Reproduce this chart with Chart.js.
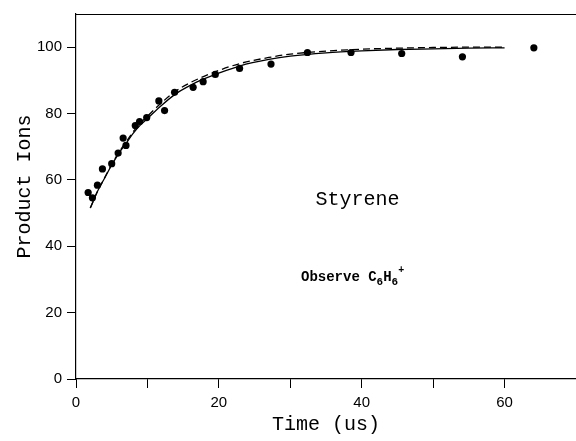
<!DOCTYPE html>
<html>
<head>
<meta charset="utf-8">
<script src="https://cdn.jsdelivr.net/npm/chart.js@4"></script>
<style>
  html, body { margin: 0; padding: 0; background: #fff; overflow: hidden; }
  #wrap { width: 576px; height: 441px; overflow: hidden; }
</style>
</head>
<body>
<div id="wrap"><canvas id="myChart" width="582" height="441"></canvas></div>
<script>
// measured points (time in us, product ions)
let pointTime = [1.7, 2.3, 3.0, 3.7, 5.0, 5.9, 6.6, 7.0, 8.3, 8.9, 9.9, 11.6, 12.4, 13.8, 16.4, 17.8, 19.5, 22.9, 27.3, 32.4, 38.5, 45.6, 54.1, 64.1];
let pointIons = [56.2, 54.6, 58.4, 63.3, 64.9, 68.1, 72.6, 70.4, 76.4, 77.6, 78.8, 83.8, 80.9, 86.4, 87.9, 89.6, 91.8, 93.6, 94.9, 98.4, 98.4, 98.1, 97.1, 99.8];

// fitted curves
let fitTime   = [2, 3, 4, 5, 6, 7, 8, 9, 10, 12, 14, 16, 18, 20, 23, 27, 30, 35, 40, 45, 50, 55, 60];
let solidFit  = [51.5, 56.5, 60.5, 64.5, 68.0, 71.0, 74.0, 76.5, 78.5, 82.5, 86.0, 88.5, 90.5, 92.2, 94.4, 96.3, 97.3, 98.3, 98.9, 99.3, 99.5, 99.7, 99.8];
let dashedFit = [51.5, 56.5, 60.6, 64.7, 68.3, 71.4, 74.5, 77.1, 79.2, 83.3, 86.8, 89.3, 91.3, 93.0, 95.1, 96.9, 97.9, 98.8, 99.4, 99.7, 99.9, 100.0, 100.0];

let xTicks = [0, 20, 40, 60];
let yTicks = [0, 20, 40, 60, 80, 100];

let xTitle = 'Time (us)';
let yTitle = 'Product Ions';
let compound = 'Styrene';

function toXY(xs, ys) {
    let out = [];
    for (let i = 0; i < xs.length; i++) {
        out.push({x: xs[i], y: ys[i]});
    }
    return out;
}

// top border of the frame + y axis title (sits a bit above centre)
const frameTop = {
    id: 'frameTop',
    afterDraw(chart) {
        const {ctx, chartArea} = chart;
        ctx.save();
        ctx.strokeStyle = '#000';
        ctx.lineWidth = 1.2;
        ctx.beginPath();
        ctx.moveTo(chartArea.left, chartArea.top + 0.5);
        ctx.lineTo(chartArea.right, chartArea.top + 0.5);
        ctx.stroke();

        ctx.translate(25, chart.scales.y.getPixelForValue(58));
        ctx.rotate(-Math.PI / 2);
        ctx.fillStyle = '#000';
        ctx.font = '20px "Liberation Mono"';
        ctx.textAlign = 'center';
        ctx.textBaseline = 'middle';
        ctx.fillText(yTitle, 0, 0);
        ctx.restore();
    }
};

// the two text notes inside the plot
const notes = {
    id: 'notes',
    afterDatasetsDraw(chart) {
        const {ctx} = chart;
        const sx = chart.scales.x, sy = chart.scales.y;
        ctx.save();
        ctx.fillStyle = '#000';
        ctx.textBaseline = 'middle';
        ctx.textAlign = 'center';
        ctx.font = '20px "Liberation Mono"';
        ctx.fillText(compound, sx.getPixelForValue(39.4), sy.getPixelForValue(54));

        let px = sx.getPixelForValue(31.5);
        let py = sy.getPixelForValue(31) + 5;
        ctx.textAlign = 'left';
        ctx.textBaseline = 'alphabetic';
        let parts = [
            ['Observe C', 0, 'bold 14px "Liberation Mono"'],
            ['6', 4, 'bold 11px "Liberation Mono"'],
            ['H', 0, 'bold 14px "Liberation Mono"'],
            ['6', 4, 'bold 11px "Liberation Mono"'],
            ['+', -8, 'bold 10px "Liberation Mono"']
        ];
        for (let p of parts) {
            ctx.font = p[2];
            ctx.fillText(p[0], px, py + p[1]);
            px += ctx.measureText(p[0]).width;
        }
        ctx.restore();
    }
};

new Chart('myChart', {
    type: 'scatter',
    data: {
        datasets: [
            {
                label: 'data',
                data: toXY(pointTime, pointIons),
                backgroundColor: '#000',
                borderWidth: 0,
                pointRadius: 3.6
            },
            {
                label: 'fit',
                data: toXY(fitTime, solidFit),
                showLine: true,
                borderColor: '#000',
                borderWidth: 1.3,
                pointRadius: 0,
                cubicInterpolationMode: 'monotone'
            },
            {
                label: 'fit2',
                data: toXY(fitTime, dashedFit),
                showLine: true,
                borderColor: '#000',
                borderWidth: 1.3,
                borderDash: [7, 4],
                pointRadius: 0,
                cubicInterpolationMode: 'monotone'
            }
        ]
    },
    options: {
        responsive: false,
        animation: false,
        devicePixelRatio: 1,
        layout: { padding: { left: 0, top: 12, right: 2, bottom: 0 } },
        plugins: { legend: { display: false }, tooltip: { enabled: false } },
        scales: {
            x: {
                type: 'linear',
                min: 0,
                max: 70,
                afterFit: (s) => { s.height = 62; },
                border: { display: true, color: '#000', width: 1.2 },
                grid: { drawOnChartArea: false, drawTicks: true, tickLength: 9, color: '#000' },
                ticks: {
                    stepSize: 10,
                    includeBounds: false,
                    maxRotation: 0,
                    autoSkip: false,
                    padding: 6,
                    color: '#000',
                    font: { family: 'Liberation Sans', size: 15 },
                    callback: (v) => xTicks.includes(v) ? String(v) : ''
                },
                title: {
                    display: true,
                    text: xTitle,
                    color: '#000',
                    font: { family: 'Liberation Mono', size: 20 },
                    padding: { top: 0, bottom: 4 }
                }
            },
            y: {
                min: 0,
                max: 110,
                afterFit: (s) => { s.width = 76; },
                border: { display: true, color: '#000', width: 1.2 },
                grid: { drawOnChartArea: false, drawTicks: true, tickLength: 9, color: '#000' },
                ticks: {
                    stepSize: 20,
                    includeBounds: false,
                    padding: 5,
                    color: '#000',
                    font: { family: 'Liberation Sans', size: 15 },
                    callback: (v) => yTicks.includes(v) ? String(v) : ''
                }
            }
        }
    },
    plugins: [frameTop, notes]
});
</script>
</body>
</html>
